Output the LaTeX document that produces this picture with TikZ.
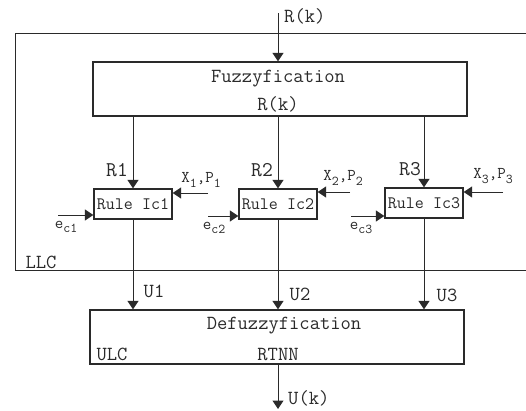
\documentclass[tikz,border=0pt]{standalone}
\usepackage{fontspec}
\usetikzlibrary{arrows.meta}

\definecolor{ink}{HTML}{2A2A2A}
\newcommand{\sub}[1]{\raisebox{-0.28em}{\fontsize{13.5}{13.5}\selectfont #1}}
\tikzset{
  wire/.style={draw=ink, line width=1pt},
  arr/.style={wire, -{Triangle[width=11pt,length=8.5pt]}},
  block/.style={draw=ink, line width=1.3pt, minimum width=374pt, minimum height=54pt, inner sep=0pt},
  rulebox/.style={draw=ink, text=ink, line width=1.3pt, minimum width=78pt, minimum height=30pt, inner sep=0pt,
    font=\ttfamily\fontsize{17.5}{17.5}\selectfont},
  big/.style={text=ink, inner sep=0pt, font=\ttfamily\fontsize{20}{20}\selectfont\addfontfeature{FakeStretch=1.14}},
  tag/.style={text=ink, inner sep=0pt, font=\ttfamily\fontsize{21}{21}\selectfont},
  sig/.style={text=ink, inner sep=0pt, font=\ttfamily\fontsize{16.5}{16.5}\selectfont},
}

\begin{document}
\begin{tikzpicture}[x=1pt,y=-1pt]
\useasboundingbox (0,0) rectangle (526,410);

% lower-level controller frame, open on the right
\draw[wire] (526,33) -- (15,33) -- (15,270) -- (526,270);
\node[big] (llc) at (41,262) {LLC};

% fuzzyfication block
\node[block] (fz) at (280,89) {};
\node[big] (fztxt) at (278,79) {Fuzzyfication};
\node[big] (fzin) at (278,104) {R(k)};

% reference input
\coordinate (rin) at (278,13);
\draw[arr] (rin) -- (rin |- fz.north);
\node[big, anchor=west] (rlab) at (284,16) {R(k)};

% rule blocks
\node[rulebox] (r1) at (133,204) {Rule Ic1};
\node[rulebox] (r2) at (278,204) {Rule Ic2};
\node[rulebox] (r3) at (424,203) {Rule Ic3};

\draw[arr] (r1.north |- fz.south) -- (r1.north);
\draw[arr] (r2.north |- fz.south) -- (r2.north);
\draw[arr] (r3.north |- fz.south) -- (r3.north);
\node[tag] (l1) at (117,170) {R1};
\node[tag] (l2) at (262,170) {R2};
\node[tag] (l3) at (410,169) {R3};

% state inputs
\coordinate (x1) at (208,193);
\coordinate (x2) at (350,192);
\coordinate (x3) at (503,192);
\draw[arr] (x1) -- (x1 -| r1.east);
\draw[arr] (x2) -- (x2 -| r2.east);
\draw[arr] (x3) -- (x3 -| r3.east);
\node[sig] (xl1) at (201,180) {X\sub{1},P\sub{1}};
\node[sig] (xl2) at (343,178) {X\sub{2},P\sub{2}};
\node[sig] (xl3) at (493,176) {X\sub{3},P\sub{3}};

% error inputs
\coordinate (e1) at (58,215);
\coordinate (e2) at (208,216);
\coordinate (e3) at (351,216);
\draw[arr] (e1) -- (e1 -| r1.west);
\draw[arr] (e2) -- (e2 -| r2.west);
\draw[arr] (e3) -- (e3 -| r3.west);
\node[sig] (el1) at (66,227) {e\sub{c1}};
\node[sig] (el2) at (214,228) {e\sub{c2}};
\node[sig] (el3) at (361,228) {e\sub{c3}};

% defuzzyfication block
\node[block] (df) at (277,337) {};
\node[big] (dftxt) at (284,326) {Defuzzyfication};
\node[big] (ulc) at (112,354) {ULC};
\node[big] (rtnn) at (278,354) {RTNN};

\draw[arr] (r1.south) -- (r1.south |- df.north);
\draw[arr] (r2.south) -- (r2.south |- df.north);
\draw[arr] (r3.south) -- (r3.south |- df.north);
\node[big] (u1) at (154,291) {U1};
\node[big] (u2) at (300,294) {U2};
\node[big] (u3) at (447,295) {U3};

% control output
\coordinate (uout) at (278,409);
\draw[arr] (df.south -| uout) -- (uout);
\node[big, anchor=west] (ulab) at (288,398) {U(k)};
\end{tikzpicture}
\end{document}
